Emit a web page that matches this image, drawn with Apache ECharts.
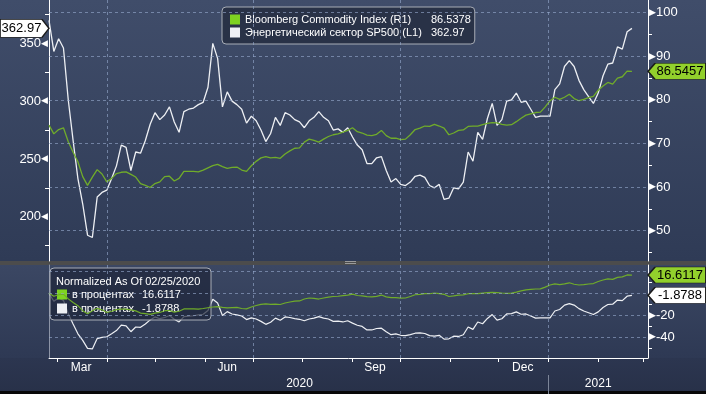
<!DOCTYPE html>
<html><head><meta charset="utf-8">
<script src="https://cdn.jsdelivr.net/npm/echarts@6/dist/echarts.min.js"></script>
<style>
html,body{margin:0;padding:0;background:#000;}
#wrap{position:relative;width:706px;height:394px;overflow:hidden;
background:linear-gradient(to bottom,#404d6a 0px,#2f3b56 261px,#4c4c4c 261px,#4c4c4c 265px,#3b4763 265px,#2e3954 358px,#2c3650 358px,#283149 391px,#080808 391px,#080808 394px);}
#chart{position:absolute;left:0;top:0;width:706px;height:394px;}
#handle{position:absolute;left:345px;top:261px;width:11px;height:1px;border-top:1px solid #9a9a9a;border-bottom:1px solid #9a9a9a;}
</style></head><body>
<div id="wrap"><div id="chart"></div><div id="handle"></div></div>
<script>
// ---- data ----
const dates = [
'2020-02-25','2020-02-28','2020-03-02','2020-03-05','2020-03-08','2020-03-11','2020-03-14','2020-03-17','2020-03-20','2020-03-23',
'2020-03-26','2020-03-29','2020-04-01','2020-04-04','2020-04-07','2020-04-10','2020-04-13','2020-04-16','2020-04-19','2020-04-22',
'2020-04-25','2020-04-28','2020-05-01','2020-05-04','2020-05-07','2020-05-10','2020-05-13','2020-05-16','2020-05-19','2020-05-22',
'2020-05-25','2020-05-28','2020-05-31','2020-06-03','2020-06-06','2020-06-09','2020-06-12','2020-06-15','2020-06-18','2020-06-21',
'2020-06-24','2020-06-27','2020-06-30','2020-07-03','2020-07-06','2020-07-09','2020-07-12','2020-07-15','2020-07-18','2020-07-21',
'2020-07-24','2020-07-27','2020-07-30','2020-08-02','2020-08-05','2020-08-08','2020-08-11','2020-08-14','2020-08-17','2020-08-20',
'2020-08-23','2020-08-26','2020-08-29','2020-09-01','2020-09-04','2020-09-07','2020-09-10','2020-09-13','2020-09-16','2020-09-19',
'2020-09-22','2020-09-25','2020-09-28','2020-10-01','2020-10-04','2020-10-07','2020-10-10','2020-10-13','2020-10-16','2020-10-19',
'2020-10-22','2020-10-25','2020-10-28','2020-10-31','2020-11-03','2020-11-06','2020-11-09','2020-11-12','2020-11-15','2020-11-18',
'2020-11-21','2020-11-24','2020-11-27','2020-11-30','2020-12-03','2020-12-06','2020-12-09','2020-12-12','2020-12-15','2020-12-18',
'2020-12-21','2020-12-24','2020-12-27','2020-12-30','2021-01-02','2021-01-05','2021-01-08','2021-01-11','2021-01-14','2021-01-17',
'2021-01-20','2021-01-23','2021-01-26','2021-01-29','2021-02-01','2021-02-04','2021-02-07','2021-02-10','2021-02-13','2021-02-16',
'2021-02-19','2021-02-22'];

// Энергетический сектор SP500 (left axis)
const energy = [
369.92,343,354,346,301,266,233,211,184,182,
217,221,223,233,244,262,260,240,256,255,
266,280,290,284,288,295,282,273,291,293,
294,297,299,312,350,337,295,308,300,297,
293,281,287,283,275,265,272,286,279,290,
288,284,282,277,283,286,291,286,283,275,
276,273,277,269,262,258,246,246,251,252,
240,230,233,228,227,230,235,236,234,227,
225,228,215,216,225,224,230,256,248,273,
267,285,298,279,284,300,301,307,299,300,
293,286,287,287,287,310,315,330,335,330,
318,310,304,298,307,322,332,333,347,345,
360,362.97];

// Bloomberg Commodity Index (right axis)
const commodity = [
74.21,72.2,73.2,73.6,70.4,68.0,65.8,62.4,60.4,62.3,
64.0,63.0,61.2,62.0,63.1,63.4,63.5,62.9,62.3,60.8,
60.4,59.9,60.8,61.2,62.4,62.5,61.4,62.0,63.6,63.6,
63.6,63.5,63.9,64.4,64.9,65.2,64.7,64.3,64.5,64.6,
63.9,63.6,64.9,65.9,66.7,67.0,66.7,66.8,66.6,67.6,
68.3,68.9,69.0,70.3,71.0,70.7,70.3,71.0,71.6,72.0,
72.2,72.6,73.0,73.6,72.7,72.4,71.9,71.8,72.1,73.0,
71.8,71.2,71.2,70.9,71.0,72.0,73.2,73.5,74.0,73.9,
74.4,74.0,73.5,72.0,72.4,73.0,73.1,73.9,74.0,74.0,
74.3,74.6,74.8,74.7,74.4,74.2,74.3,75.0,75.8,76.5,
76.8,77.1,77.2,78.4,79.8,80.6,80.1,80.6,81.3,80.3,
79.8,80.1,80.5,80.8,82.2,83.2,84.0,83.6,85.0,85.3,
86.6,86.5378];

const seriesNames = ['Bloomberg Commodity Index (R1)', 'Энергетический сектор SP500 (L1)'];
const legendValues = ['86.5378', '362.97'];
const pctNames = ['в процентах', 'в процентах'];
const pctValues = ['16.6117', '-1.8788'];
const normalizedTitle = 'Normalized As Of 02/25/2020';
const tagCommodity = 86.5457;
const tagEnergy = 362.97;
const tagPct = [16.6117, -1.8788];

const leftLabels = [200, 250, 300, 350];
const leftMinor = [175, 225, 275, 325, 375];
const rightLabels = [50, 60, 70, 80, 90, 100];
const rightMinor = [45, 55, 65, 75, 85, 95];
const pctLabels = [-20, -40];
const pctMinor = [10, -10, -30, -50];
const pctGrid = [20, 0, -20, -40];

const axisStart = '2020-02-25', axisEnd = '2021-03-04';
const quarterStarts = ['2020-04-01', '2020-07-01', '2020-10-01', '2021-01-01'];
const monthStarts = ['2020-03-01','2020-04-01','2020-05-01','2020-06-01','2020-07-01','2020-08-01','2020-09-01','2020-10-01','2020-11-01','2020-12-01','2021-01-01','2021-02-01','2021-03-01'];
const monthLabelDates = ['2020-03-16', '2020-06-15', '2020-09-15', '2020-12-16'];
const monthLabels = ['Mar', 'Jun', 'Sep', 'Dec'];
const yearLabelDates = ['2020-07-30', '2021-02-01'];
const yearLabels = ['2020', '2021'];
const yearBreak = ['2021-01-01'];

// ---- helpers ----
function T(s) { const p = s.split('-'); return new Date(+p[0], +p[1] - 1, +p[2]).getTime(); }
function nearestLabel(v, ds, labels) {
  let best = 0, bd = Infinity;
  ds.forEach((d, i) => { const dd = Math.abs(T(d) - v); if (dd < bd) { bd = dd; best = i; } });
  return labels[best];
}
const FF = '"Liberation Sans", Arial, sans-serif';
const xMin = T(axisStart), xMax = T(axisEnd);
const GREEN = '#70ac2a', WHITE = '#eef0f4', TAGGREEN = '#92d02c';
const gridLineStyle = { type: [3, 3], color: 'rgba(150,170,205,0.62)', width: 1 };
function gridLines(h, v) {
  return { silent: true, symbol: 'none', label: { show: false }, lineStyle: gridLineStyle, animation: false,
    data: h.map(y => ({ yAxis: y })).concat(v.map(x => ({ xAxis: T(x) }))) };
}
const pctCommodity = commodity.map(v => (v / commodity[0] - 1) * 100);
const pctEnergy = energy.map(v => (v / energy[0] - 1) * 100);
const toPairs = arr => dates.map((d, i) => [T(d), arr[i]]);

function tag(coordX, val, text, fill, pointRight) {
  const w = pointRight ? 49 : 58, h = pointRight ? 18 : 16;
  return {
    silent: true, animation: false,
    symbol: pointRight ? 'path://M0,0L42,0L49,9L42,18L0,18Z' : 'path://M0,8L7,0L58,0L58,16L7,16Z',
    symbolSize: [w, h], symbolKeepAspect: false,
    symbolOffset: [pointRight ? -w / 2 : w / 2, 0],
    itemStyle: { color: fill, borderColor: '#1b1b1b', borderWidth: 1 },
    label: { show: true, position: 'inside', formatter: text, color: '#000', fontSize: 13, fontFamily: FF,
      offset: [pointRight ? -3 : 3, 0] },
    data: [{ coord: [coordX, val] }]
  };
}
const tri = { color: '#fff', fontSize: 9, fontFamily: '"DejaVu Sans"' };
const lbl = { color: '#fff', fontSize: 13, fontFamily: FF };

const option = {
  animation: false,
  title: { text: normalizedTitle, left: 56, top: 276, padding: 0, z: 10,
    textStyle: { color: '#fff', fontSize: 11, fontWeight: 'normal', fontFamily: FF } },
  legend: [
    { left: 222, top: 7, orient: 'vertical', data: [seriesNames[0], seriesNames[1]], icon: 'rect',
      itemWidth: 10, itemHeight: 10, itemGap: 0, padding: [6, 4, 5, 8], selectedMode: false,
      backgroundColor: 'rgba(40,48,70,0.95)', borderColor: '#a8adb6', borderWidth: 1, borderRadius: 4,
      formatter: n => `{n|${n}}{v|${legendValues[seriesNames.indexOf(n)]}}`,
      textStyle: { color: '#fff', fontSize: 11, fontFamily: FF, lineHeight: 13,
        rich: { n: { width: 186, color: '#fff', fontSize: 11, fontFamily: FF }, v: { width: 38, color: '#fff', fontSize: 11, fontFamily: FF } } } },
    { left: 50, top: 268, orient: 'vertical', data: ['pctCommodity', 'pctEnergy'], icon: 'rect',
      itemWidth: 10, itemHeight: 10, itemGap: 1, padding: [20, 6, 5, 7], selectedMode: false,
      backgroundColor: 'rgba(30,38,58,0.72)', borderColor: '#a8adb6', borderWidth: 1, borderRadius: 4,
      formatter: n => { const i = n === 'pctCommodity' ? 0 : 1; return `{n|${pctNames[i]}}{v|${pctValues[i]}}`; },
      textStyle: { color: '#fff', fontSize: 11, fontFamily: FF, lineHeight: 13,
        rich: { n: { width: 70, color: '#fff', fontSize: 11, fontFamily: FF }, v: { width: 63, color: '#fff', fontSize: 11, fontFamily: FF } } } }
  ],
  grid: [
    { left: 49, right: 58, top: 0, height: 261 },
    { left: 49, right: 58, top: 265, height: 93 }
  ],
  xAxis: [
    { type: 'value', gridIndex: 0, min: xMin, max: xMax, show: false, splitLine: { show: false }, axisLine: { onZero: false } },
    { type: 'value', gridIndex: 1, min: xMin, max: xMax, position: 'bottom',
      axisLine: { show: true, onZero: false, lineStyle: { color: '#fff', width: 1 } },
      axisTick: { show: true, customValues: monthStarts.map(T), length: 4, lineStyle: { color: '#fff' } },
      axisLabel: { show: true, customValues: monthLabelDates.map(T), margin: 4, color: '#fff', fontSize: 12, fontFamily: FF,
        formatter: v => nearestLabel(v, monthLabelDates, monthLabels) },
      splitLine: { show: false } },
    { type: 'value', gridIndex: 1, min: xMin, max: xMax, position: 'bottom', offset: 17,
      axisLine: { show: false, onZero: false },
      axisTick: { show: true, customValues: yearBreak.map(T), length: 19, lineStyle: { color: '#7c8598' } },
      axisLabel: { show: true, customValues: yearLabelDates.map(T), margin: 3, color: '#fff', fontSize: 12, fontFamily: FF,
        formatter: v => nearestLabel(v, yearLabelDates, yearLabels) },
      splitLine: { show: false } }
  ],
  yAxis: [
    { type: 'value', gridIndex: 0, position: 'left', min: 161.7, max: 387.5,
      axisLine: { show: true, onZero: false, lineStyle: { color: '#fff', width: 1 } },
      axisTick: { show: true, customValues: leftMinor, length: 4, lineStyle: { color: '#fff' } },
      axisLabel: { show: true, customValues: leftLabels, margin: 1, formatter: v => `{a|${v}}{t|◀}`, rich: { a: lbl, t: tri } },
      splitLine: { show: false } },
    { type: 'value', gridIndex: 0, position: 'right', min: 43.05, max: 102.9,
      axisLine: { show: true, onZero: false, lineStyle: { color: '#fff', width: 1 } },
      axisTick: { show: true, customValues: rightMinor, length: 4, lineStyle: { color: '#fff' } },
      axisLabel: { show: true, customValues: rightLabels, margin: 1, formatter: v => `{t|▶}{a|${v}}`, rich: { a: lbl, t: tri } },
      splitLine: { show: false } },
    { type: 'value', gridIndex: 1, position: 'right', min: -59.1, max: 25.8,
      axisLine: { show: true, onZero: false, lineStyle: { color: '#fff', width: 1 } },
      axisTick: { show: true, customValues: pctMinor, length: 4, lineStyle: { color: '#fff' } },
      axisLabel: { show: true, customValues: pctLabels, margin: 1, formatter: v => `{t|▶}{a|${v}}`, rich: { a: lbl, t: tri } },
      splitLine: { show: false } },
    { type: 'value', gridIndex: 1, position: 'left', min: -59.1, max: 25.8,
      axisLine: { show: true, onZero: false, lineStyle: { color: '#8c94a6', width: 1 } },
      axisTick: { show: false }, axisLabel: { show: false }, splitLine: { show: false } }
  ],
  series: [
    { type: 'line', xAxisIndex: 0, yAxisIndex: 1, data: [], z: 1, markLine: gridLines(rightLabels, quarterStarts) },
    { type: 'line', xAxisIndex: 1, yAxisIndex: 2, data: [], z: 1, markLine: gridLines(pctGrid, quarterStarts) },
    { name: seriesNames[1], type: 'line', xAxisIndex: 0, yAxisIndex: 0, data: toPairs(energy), showSymbol: false, symbol: 'none',
      clip: false, color: WHITE, lineStyle: { color: WHITE, width: 1.3 }, itemStyle: { color: WHITE }, z: 3,
      markPoint: tag(xMin, tagEnergy, String(tagEnergy), '#ffffff', true) },
    { name: seriesNames[0], type: 'line', xAxisIndex: 0, yAxisIndex: 1, data: toPairs(commodity), showSymbol: false, symbol: 'none',
      clip: false, color: '#7ed321', lineStyle: { color: GREEN, width: 1.3 }, itemStyle: { color: '#7ed321' }, z: 4,
      markPoint: tag(xMax, tagCommodity, String(tagCommodity), TAGGREEN, false) },
    { name: 'pctEnergy', type: 'line', xAxisIndex: 1, yAxisIndex: 2, data: toPairs(pctEnergy), showSymbol: false, symbol: 'none',
      clip: false, color: WHITE, lineStyle: { color: WHITE, width: 1.2 }, itemStyle: { color: WHITE }, z: 3,
      markPoint: tag(xMax, tagPct[1], String(tagPct[1]), '#ffffff', false) },
    { name: 'pctCommodity', type: 'line', xAxisIndex: 1, yAxisIndex: 2, data: toPairs(pctCommodity), showSymbol: false, symbol: 'none',
      clip: false, color: '#7ed321', lineStyle: { color: GREEN, width: 1.2 }, itemStyle: { color: '#7ed321' }, z: 4,
      markPoint: tag(xMax, tagPct[0], String(tagPct[0]), TAGGREEN, false) }
  ]
};
const chart = echarts.init(document.getElementById('chart'), null, { renderer: 'canvas' });
chart.setOption(option);
</script>
</body></html>
